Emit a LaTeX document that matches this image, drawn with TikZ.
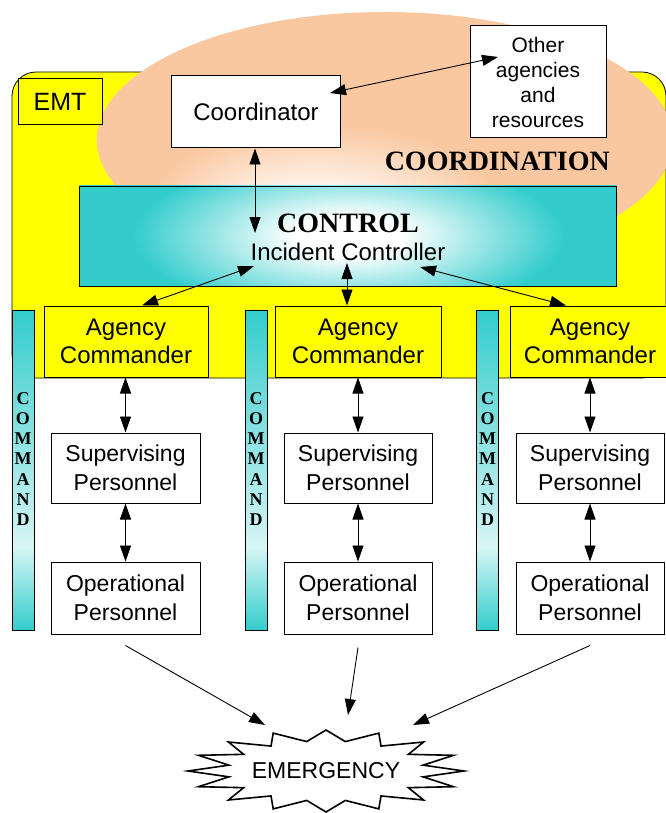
\documentclass[tikz,border=0pt]{standalone}
\usepackage{fontspec}
\setmainfont{Liberation Sans}
\newfontfamily\timesfont{Liberation Serif}
\usetikzlibrary{arrows.meta}
\definecolor{emtyellow}{RGB}{255,255,0}
\definecolor{peach}{RGB}{250,200,160}
\definecolor{ctrlteal}{RGB}{51,204,204}
\definecolor{cmdlight}{RGB}{215,245,245}
\pgfdeclareradialshading{coordshade}{\pgfpoint{-7bp}{-16bp}}{color(0bp)=(white); color(3bp)=(white); color(15bp)=(peach); color(60bp)=(peach)}
\pgfdeclareradialshading{ctrlshade}{\pgfpoint{0bp}{0bp}}{color(0bp)=(white); color(5bp)=(white); color(20bp)=(ctrlteal); color(50bp)=(ctrlteal)}
\pgfdeclareverticalshading{cmdshade}{100bp}{color(0bp)=(ctrlteal); color(25bp)=(ctrlteal); color(38bp)=(cmdlight); color(75bp)=(ctrlteal); color(100bp)=(ctrlteal)}

\begin{document}
\begin{tikzpicture}[x=1pt,y=-1pt,
  box/.style={draw,line width=1pt,fill=white,align=center,inner sep=0pt},
  ybox/.style={box,fill=emtyellow},
  arr/.style={-{Triangle[length=16pt,width=11pt]},line width=0.9pt},
  biarr/.style={{Triangle[length=16pt,width=11pt]}-{Triangle[length=16pt,width=11pt]},line width=0.9pt},
  cmdbar/.style={draw,line width=0.8pt,shade,shading=cmdshade,minimum width=22pt,minimum height=320pt,inner sep=0pt},
  cmdtext/.style={align=center,inner sep=0pt,font=\timesfont\bfseries\fontsize{18}{20.3}\selectfont},
  agfont/.style={font=\fontsize{24}{28}\selectfont},
  persfont/.style={font=\fontsize{23}{29}\selectfont}]
\useasboundingbox (0,0) rectangle (665,813);
% EMT panel and coordination cloud
\draw[fill=emtyellow,rounded corners=24pt,line width=0.8pt] (12,72) rectangle (666,378);
\shade[shading=coordshade] (385,140) ellipse [x radius=288,y radius=128];
\node[ybox,minimum width=84pt,minimum height=46pt,font=\fontsize{25}{28}\selectfont] (emt) at (60,102) {EMT};
\node[box,minimum width=169pt,minimum height=72pt,font=\fontsize{24}{28}\selectfont] (coord) at (256,112) {Coordinator};
\node[box,minimum width=136pt,minimum height=112pt,font=\fontsize{21}{25}\selectfont] (other) at (538,82) {Other\\agencies\\and\\resources};
\node[anchor=east,inner sep=0pt,font=\timesfont\bfseries\fontsize{28}{30}\selectfont] (coordlbl) at (610,161) {COORDINATION};
% control
\node[draw,line width=0.8pt,minimum width=537pt,minimum height=100pt,
  path picture={\shade[shading=ctrlshade] ([yshift=50pt]path picture bounding box.north west) rectangle ([yshift=-50pt]path picture bounding box.south east);}] (ctrl) at (348,236) {};
\node[align=center,inner sep=0pt,font=\fontsize{24}{28}\selectfont] (ctrltxt) at (348,237) {{\timesfont\bfseries\fontsize{28}{30}\selectfont CONTROL}\\Incident Controller};
% command bars
\node[cmdbar] (cmd1) at (23,470) {};
\node[cmdbar] (cmd2) at (256,470) {};
\node[cmdbar] (cmd3) at (487.5,470) {};
\node[cmdtext] (cmdt1) at (23,459) {C\\O\\M\\M\\A\\N\\D};
\node[cmdtext] (cmdt2) at (256,459) {C\\O\\M\\M\\A\\N\\D};
\node[cmdtext] (cmdt3) at (487.5,459) {C\\O\\M\\M\\A\\N\\D};
% agencies
\node[ybox,agfont,minimum width=164pt,minimum height=71pt] (ag1) at (126,341.5) {Agency\\Commander};
\node[ybox,agfont,minimum width=166pt,minimum height=71pt] (ag2) at (358,341.5) {Agency\\Commander};
\node[ybox,agfont,minimum width=160pt,minimum height=71pt] (ag3) at (590,341.5) {Agency\\Commander};
\node[box,persfont,minimum width=149pt,minimum height=70pt] (sup1) at (125.5,468) {Supervising\\Personnel};
\node[box,persfont,minimum width=148pt,minimum height=70pt] (sup2) at (358,468) {Supervising\\Personnel};
\node[box,persfont,minimum width=148pt,minimum height=70pt] (sup3) at (590,468) {Supervising\\Personnel};
\node[box,persfont,minimum width=149pt,minimum height=72pt] (op1) at (125.5,598) {Operational\\Personnel};
\node[box,persfont,minimum width=148pt,minimum height=72pt] (op2) at (358,598) {Operational\\Personnel};
\node[box,persfont,minimum width=148pt,minimum height=72pt] (op3) at (590,598) {Operational\\Personnel};
% emergency burst
\node[inner sep=0pt,font=\fontsize{23}{26}\selectfont] (emerg) at (326,771) {EMERGENCY};
\draw[line width=1.6pt,line join=miter,shift={(emerg.center)}] (0:138 and 41)
  \foreach \a in {0,22.5,...,337.5}{ -- (\a:138 and 41) -- (\a+11.25:99 and 30)} -- cycle;
% connectors
\coordinate (cA) at (330,93);
\coordinate (oA) at (498,57);
\coordinate (ct0) at (255,233);
\coordinate (ct1) at (254,266);
\coordinate (ct2) at (347,263);
\coordinate (ct3) at (420,267);
\draw[biarr] (cA) -- (oA);
\draw[biarr] (coord.south -| ct0) -- (ct0);
\draw[biarr] (ct1) -- ([xshift=16pt]ag1.north);
\draw[biarr] (ct2) -- (ag2.north -| ct2);
\draw[biarr] (ct3) -- ([xshift=-24pt]ag3.north);
\foreach \i in {1,2,3}{
  \draw[biarr] (ag\i.south -| sup\i.north) -- (sup\i.north);
  \draw[biarr] (sup\i.south) -- (op\i.north);
}
\coordinate (em1) at (265,725);
\coordinate (em2) at (348,715);
\coordinate (em3) at (413,725);
\draw[arr] ([yshift=-11pt]op1.south) -- (em1);
\draw[arr] ([yshift=-13pt]op2.south) -- (em2);
\draw[arr] ([yshift=-11pt]op3.south) -- (em3);
\end{tikzpicture}
\end{document}
